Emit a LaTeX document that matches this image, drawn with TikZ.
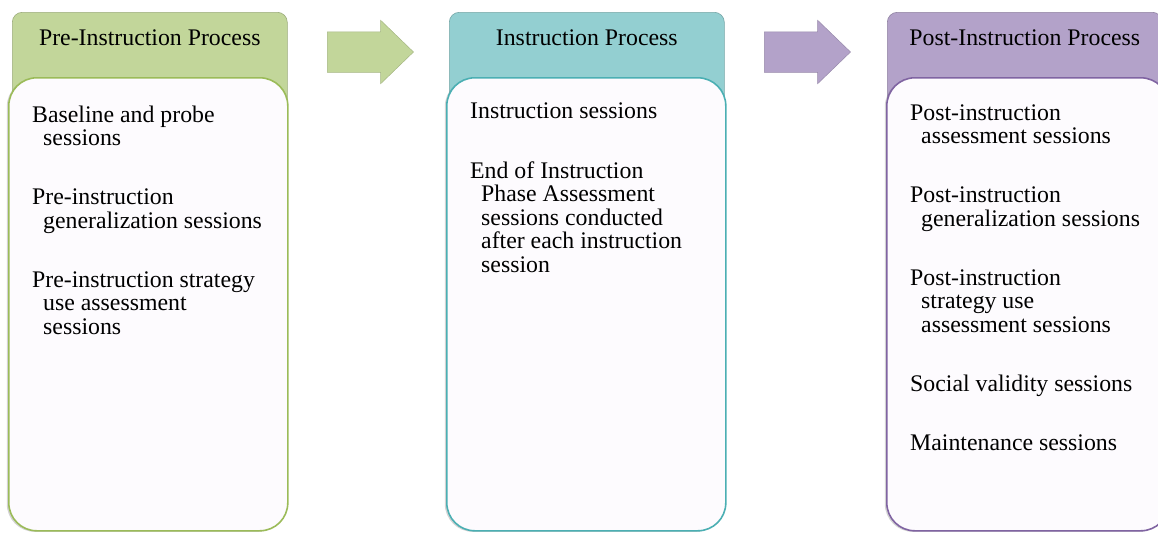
\documentclass[tikz,border=0pt]{standalone}
\usepackage{fontspec}
\setmainfont{Liberation Serif}
\usetikzlibrary{positioning,shapes.arrows,shadows}

\definecolor{grnhead}{HTML}{C2D69A}
\definecolor{tealhead}{HTML}{93CFD1}
\definecolor{purphead}{HTML}{B3A2C9}
\definecolor{grnline}{HTML}{9BBB59}
\definecolor{tealline}{HTML}{4BAFB3}
\definecolor{purpline}{HTML}{8064A2}
\definecolor{bodyfill}{HTML}{FDFBFE}

% hanging indent for wrapped lines
\newcommand{\indt}{\hspace*{11pt}}

\begin{document}
\begin{tikzpicture}[x=1pt,y=-1pt,
    font=\fontsize{23.8}{23.5}\selectfont,
    head/.style={draw=#1!80!black, line width=.6pt, fill=#1, rounded corners=10pt,
                 minimum width=275pt, inner ysep=18pt, text height=15pt,
                 text depth=49pt, anchor=north west},
    body/.style={draw=#1, line width=1.6pt, fill=bodyfill, rounded corners=28pt,
                 minimum width=279pt, minimum height=453pt, anchor=north west,
                 drop shadow={shadow xshift=-2pt, shadow yshift=-1pt, opacity=.35}},
    items/.style={align=left, inner sep=0pt, anchor=north west},
    bigarrow/.style={single arrow, fill=#1, draw=#1!85!black, line width=.5pt,
                     minimum height=86pt, inner xsep=0pt, inner ysep=20pt,
                     single arrow head extend=11.5pt, single arrow tip angle=88}]

  \useasboundingbox (0,0) rectangle (1158,533);

  % header tabs
  \node[head=grnhead]  (prehead)  at (12,12)  {Pre-Instruction Process};
  \node[head=tealhead] (insthead) at (449,12) {Instruction Process};
  \node[head=purphead] (posthead) at (887,12) {Post-Instruction Process};

  % white panels
  \node[body=grnline]  (prebody)  at (8,77)   {};
  \node[body=tealline] (instbody) at (446,77) {};
  \node[body=purpline, minimum width=282pt] (postbody) at (886,77) {};

  % session lists (first baseline sits a strut below the top)
  \node[items] (prelist) at (32,105.5) {\strut Baseline and probe\\
    \indt sessions\\[35.5pt]
    Pre-instruction\\
    \indt generalization sessions\\[35.5pt]
    Pre-instruction strategy\\
    \indt use assessment\\
    \indt sessions};

  \node[items] (instlist) at (470,101.5) {\strut Instruction sessions\\[35.5pt]
    End of Instruction\\
    \indt Phase Assessment\\
    \indt sessions conducted\\
    \indt after each instruction\\
    \indt session};

  \node[items] (postlist) at (910,103.5) {\strut Post-instruction\\
    \indt assessment sessions\\[35.5pt]
    Post-instruction\\
    \indt generalization sessions\\[35.5pt]
    Post-instruction\\
    \indt strategy use\\
    \indt assessment sessions\\[35.5pt]
    Social validity sessions\\[35.5pt]
    Maintenance sessions};

  % block arrows between the stages
  \node[bigarrow=grnhead]  (arr1) at (360,52) {};
  \node[bigarrow=purphead] (arr2) at (797,52) {};
\end{tikzpicture}
\end{document}
